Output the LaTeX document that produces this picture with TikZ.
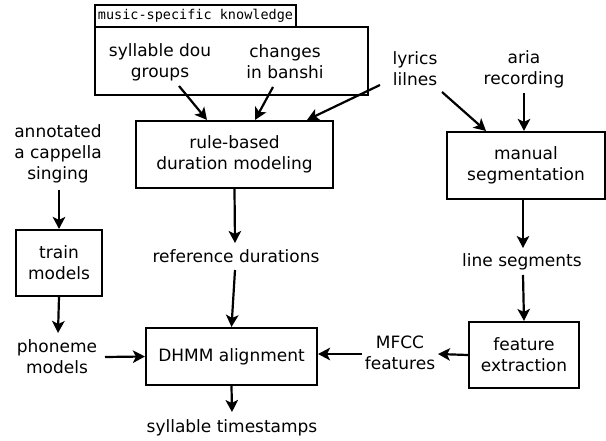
\documentclass[tikz,border=0pt]{standalone}
\usepackage{fontspec}
\setmainfont{DejaVu Sans}
\newfontfamily\monofont{DejaVu Sans Mono}
\usetikzlibrary{arrows.meta,calc}
\begin{document}
\begin{tikzpicture}[x=1pt,y=-1pt,
  every node/.style={font=\fontsize{17}{21}\selectfont, align=center, inner sep=0pt},
  box/.style={draw, line width=2.1pt, minimum width=#1},
  arr/.style={line width=2.2pt, -{Stealth[length=12pt,width=12.5pt,inset=3pt]}}
]
\useasboundingbox (0,0) rectangle (606,441);
% music-specific knowledge
\node[draw, line width=1.5pt, minimum width=201pt, minimum height=22pt, font=\monofont\fontsize{13.5}{15}\selectfont] (mlabel) at (195.5,16) {music-specific knowledge};
\node[box=273pt, minimum height=68pt] (mbox) at (231.5,61) {};
\node (syl) at (160,62) {syllable dou\\groups};
\node (chg) at (285,62) {changes\\in banshi};
\node (lyr) at (415,69) {lyrics\\lilnes};
\node (aria) at (524,69) {aria\\recording};
\node[box=197pt, minimum height=67pt] (rule) at (234.5,154.5) {rule-based\\duration modeling};
\node[box=158pt, minimum height=67pt] (man) at (526,165.5) {manual\\segmentation};
\node (ann) at (58,154) {annotated\\a cappella\\singing};
\node[box=86pt, minimum height=66pt] (train) at (59,263) {train\\models};
\node (ref) at (236,256) {reference durations};
\node (seg) at (522,262) {line segments};
\node (phon) at (57,357) {phoneme\\models};
\node[box=171pt, minimum height=57pt] (dhmm) at (231.5,356.5) {DHMM alignment};
\node (mfcc) at (400,353) {MFCC\\features};
\node[box=110pt, minimum height=66pt] (feat) at (524,355) {feature\\extraction};
\node (ts) at (232,428) {syllable timestamps};
% arrows
\draw[arr] ($(syl.center)+(19,24)$) -- ($(rule.north)+(-27.5,0)$);
\draw[arr] ($(chg.center)+(-12,25)$) -- ($(rule.north)+(20.5,0)$);
\draw[arr] ($(lyr.center)+(-35,16)$) -- ($(rule.north)+(72.5,0)$);
\draw[arr] ($(lyr.center)+(27,23)$) -- ($(man.north)+(-40,0)$);
\draw[arr] ($(aria.center)+(0,24)$) -- ($(man.north)+(-2,0)$);
\draw[arr] ($(ann.center)+(1,36)$) -- (train.north);
\draw[arr] (train.south) -- ($(phon.center)+(1,-24)$);
\draw[arr] (rule.south) -- ($(ref.center)+(-1,-13)$);
\draw[arr] ($(ref.center)+(-1,14)$) -- (dhmm.north);
\draw[arr] (dhmm.south) -- ($(ts.center)+(0,-16)$);
\draw[arr] ($(phon.center)+(48,0)$) -- (dhmm.west);
\draw[arr] ($(man.south)+(-3,0)$) -- ($(seg.center)+(1,-14)$);
\draw[arr] ($(seg.center)+(1,13)$) -- (feat.north);
\draw[arr] (feat.west) -- ($(mfcc.center)+(38,1)$);
\coordinate (mfccL) at ($(mfcc.center)+(-38,1)$);
\draw[arr] (mfccL) -- (mfccL -| dhmm.east);
\end{tikzpicture}
\end{document}
